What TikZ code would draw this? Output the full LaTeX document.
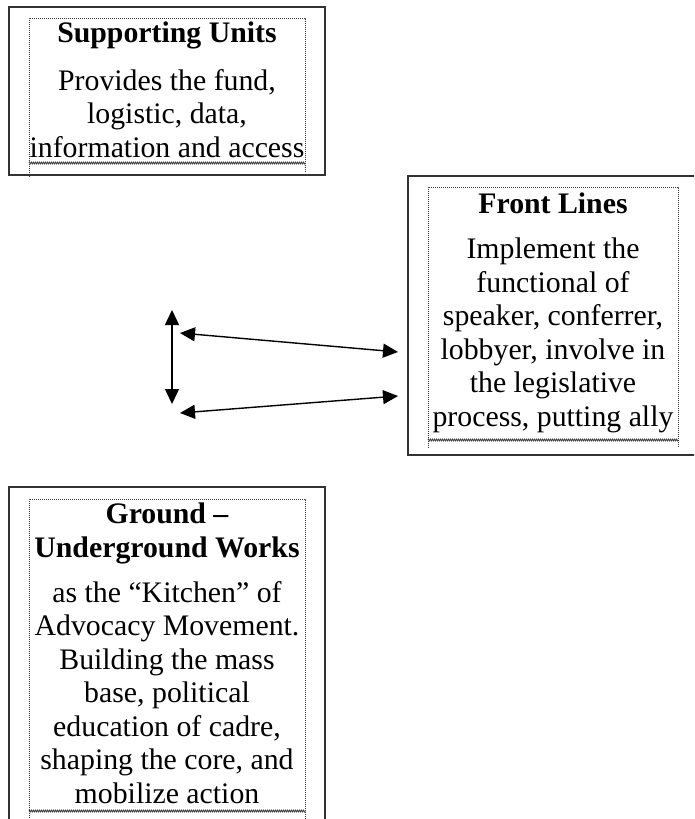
\documentclass[tikz,border=0pt]{standalone}
\usepackage{fontspec}
\setmainfont{Liberation Serif}
\usetikzlibrary{arrows.meta,decorations.pathmorphing}
\tikzset{
  outerbox/.style={draw=black!80, line width=1.8pt, fill=none},
  innerdot/.style={draw=black!80, line width=1pt, dash pattern=on 1pt off 1pt},
  wavy/.style={draw=black!75, line width=0.8pt, decorate, decoration={zigzag, amplitude=0.9pt, segment length=2pt}},
  titletext/.style={anchor=base, inner sep=0pt, align=center, font=\fontsize{29.8}{34}\selectfont\bfseries},
  bodytext/.style={anchor=base, inner sep=0pt, align=center, font=\fontsize{29.8}{33.5}\selectfont},
  biarrow/.style={line width=1.4pt, {Triangle[length=15pt,width=14pt]}-{Triangle[length=15pt,width=14pt]}}
}
\begin{document}
\begin{tikzpicture}[x=1pt,y=-1pt]
\useasboundingbox (0,0) rectangle (694,819);
\begin{scope}
\clip (0,0) rectangle (694,819);
% Supporting Units
\draw[outerbox] (9,7) rectangle (325,175);
\draw[innerdot] (29,177) -- (29,18) -- (305,18) -- (305,173);
\draw[wavy] (29,163) -- (305,163);
\node[titletext] (sutitle) at (167,42) {Supporting Units};
\node[bodytext] (sutext) at (167,157) {Provides the fund,\\logistic, data,\\information and access};
% Front Lines
\draw[outerbox] (408,176) rectangle (702,455);
\draw[innerdot] (428,448) -- (428,187) -- (678,187) -- (678,448);
\draw[wavy] (428,440) -- (678,440);
\node[titletext] (fltitle) at (553,213) {Front Lines};
\node[bodytext] (fltext) at (553,426) {Implement the\\functional of\\speaker, conferrer,\\lobbyer, involve in\\the legislative\\process, putting ally};
% Ground - Underground Works
\draw[outerbox] (9,830) -- (9,487) -- (325,487) -- (325,830);
\draw[innerdot] (29,830) -- (29,499) -- (305,499) -- (305,830);
\draw[wavy] (29,811) -- (305,811);
\node[titletext] (gutitle) at (167,557) {Ground –\\Underground Works};
\node[bodytext] (gutext) at (167,803) {as the “Kitchen” of\\Advocacy Movement.\\Building the mass\\base, political\\education of cadre,\\shaping the core, and\\mobilize action};
\end{scope}
% arrows
\coordinate (vtop) at (172,310);
\coordinate (vbot) at (172,404);
\coordinate (ul) at (180,333);
\coordinate (ur) at (398,352);
\coordinate (ll) at (180,413);
\coordinate (lr) at (398,396);
\draw[biarrow] (vtop) -- (vbot);
\draw[biarrow] (ul) -- (ur);
\draw[biarrow] (ll) -- (lr);
\end{tikzpicture}
\end{document}
